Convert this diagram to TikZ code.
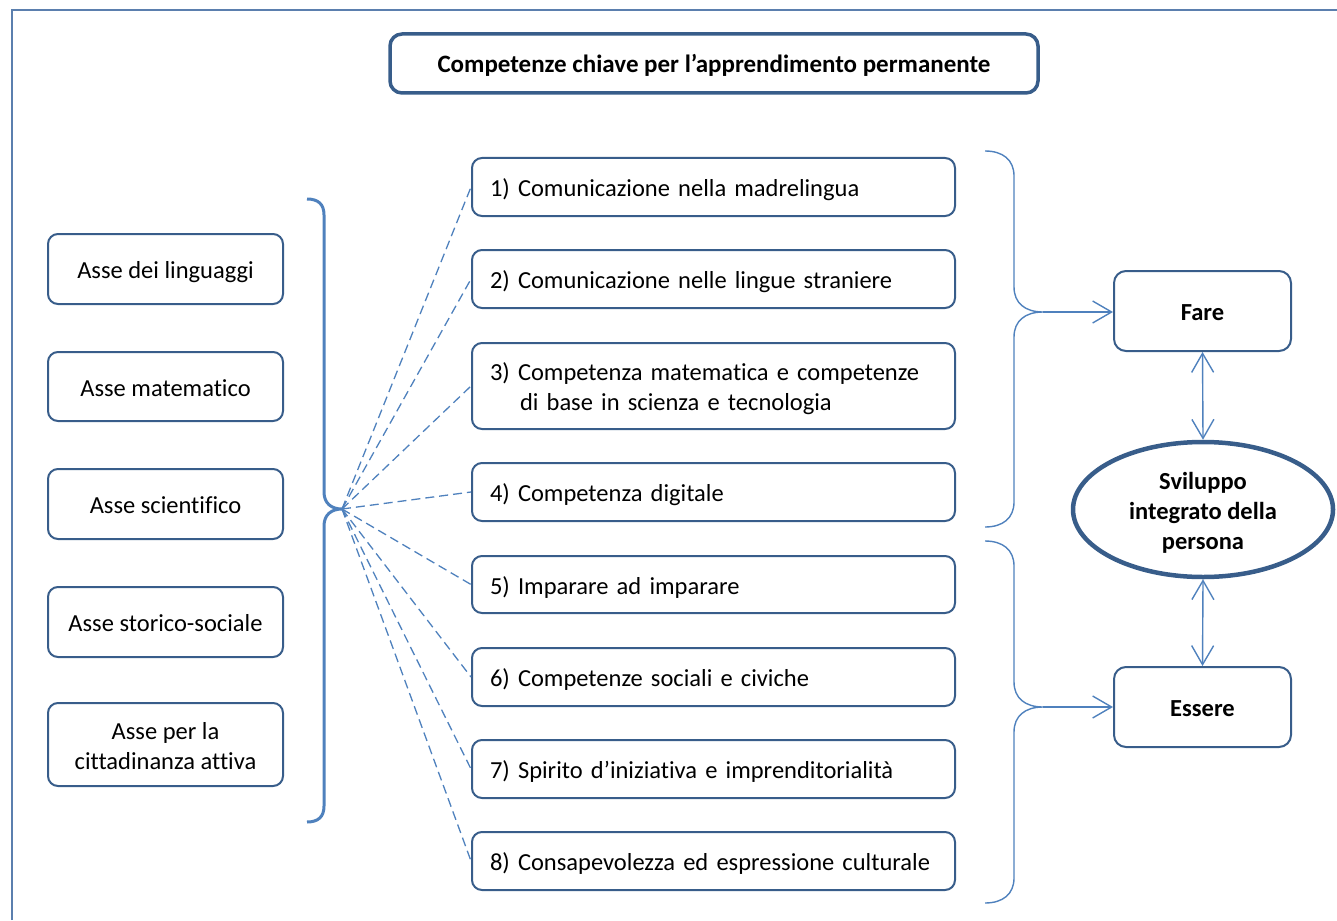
\documentclass[tikz,border=0pt]{standalone}
\usepackage{fontspec}
\setmainfont{Carlito}[RawFeature=-liga]
\usetikzlibrary{arrows.meta,shapes.geometric}
\definecolor{boxc}{HTML}{385D8A}
\definecolor{linec}{HTML}{4F81BD}
\definecolor{framec}{HTML}{5B7FAE}
\begin{document}
\begin{tikzpicture}[x=1pt,y=-1pt,
  every node/.style={font=\fontsize{24.5}{30}\selectfont},
  oneline/.style={text height=19.5pt,text depth=0pt},
  axbox/.style={draw=boxc,line width=2pt,rounded corners=10pt,minimum width=235pt,align=center,inner sep=0pt},
  compbox/.style={draw=boxc,line width=2pt,rounded corners=10pt,minimum width=483pt,text width=447pt,align=left,inner xsep=18pt,inner ysep=0pt},
  resbox/.style={draw=boxc,line width=2pt,rounded corners=12pt,minimum width=177pt,minimum height=80pt,oneline,font=\fontsize{24.5}{30}\selectfont\bfseries},
  dashline/.style={draw=linec,line width=1.3pt,dash pattern=on 9pt off 5pt},
  bigbrace/.style={draw=linec,line width=3pt},
  smallbrace/.style={draw=linec,line width=1.4pt},
  openarrow/.style={draw=linec,line width=1.4pt,-{Straight Barb[length=19pt,width=22pt,line width=1.4pt]}},
  dblarrow/.style={draw=linec,line width=1.4pt,{Straight Barb[length=19pt,width=22pt,line width=1.4pt]}-{Straight Barb[length=19pt,width=22pt,line width=1.4pt]}}
]
\useasboundingbox (0,0) rectangle (1337,920);
% frame
\draw[framec,line width=1.3pt] (12,920) -- (12,10) -- (1337,10);

% title
\node[draw=boxc,line width=3.5pt,rounded corners=12pt,minimum width=648pt,minimum height=59pt,text height=19.5pt,text depth=2pt,font=\fontsize{25}{30}\selectfont\bfseries] (title) at (714,63.5) {Competenze chiave per l’apprendimento permanente};

% axes
\node[axbox,oneline,minimum height=70pt] (a1) at (165.5,269) {Asse dei linguaggi};
\node[axbox,oneline,minimum height=69pt] (a2) at (165.5,386.5) {Asse matematico};
\node[axbox,oneline,minimum height=70pt] (a3) at (165.5,504) {Asse scientifico};
\node[axbox,oneline,minimum height=70pt] (a4) at (165.5,622) {Asse storico-sociale};
\node[axbox,text height=50pt,text depth=0pt,minimum height=83pt] (a5) at (165.5,744.5) {Asse per la\\cittadinanza attiva};

% competences
\node[compbox,oneline,minimum height=58pt] (m1) at (713.5,187) {1) Comunicazione nella madrelingua};
\node[compbox,oneline,minimum height=58pt] (m2) at (713.5,279) {2) Comunicazione nelle lingue straniere};
\node[compbox,text height=19.5pt,text depth=30.5pt,minimum height=86pt] (m3) at (713.5,386) {3) Competenza matematica e competenze\\\hspace*{30pt}di base in scienza e tecnologia};
\node[compbox,oneline,minimum height=58pt] (m4) at (713.5,492) {4) Competenza digitale};
\node[compbox,oneline,minimum height=57pt] (m5) at (713.5,584.5) {5) Imparare ad imparare};
\node[compbox,oneline,minimum height=58pt] (m6) at (713.5,677) {6) Competenze sociali e civiche};
\node[compbox,oneline,minimum height=58pt] (m7) at (713.5,769) {7) Spirito d’iniziativa e imprenditorialità};
\node[compbox,oneline,minimum height=58pt] (m8) at (713.5,861) {8) Consapevolezza ed espressione culturale};

% right boxes
\node[resbox] (fare) at (1202.5,311) {Fare};
\node[resbox] (essere) at (1202.5,707) {Essere};
\node[ellipse,draw=boxc,line width=4.5pt,minimum width=260pt,minimum height=135pt,inner sep=0pt,align=center,text height=79.5pt,text depth=0pt,font=\fontsize{24.5}{30}\selectfont\bfseries] (svil) at (1203,509.5) {Sviluppo\\integrato della\\persona};

% left brace
\coordinate (ltip) at (342,509);
\draw[bigbrace] (307,199) .. controls (318,199) and (324,204) .. (324,215) -- (324,492)
  .. controls (324,503) and (331,509) .. (ltip)
  .. controls (331,509) and (324,515) .. (324,526) -- (324,806)
  .. controls (324,817) and (318,822) .. (307,822);

% dashed connectors
\foreach \m in {m1,m2,m3,m4,m5,m6,m7,m8}
  \draw[dashline] (ltip) -- (\m.west);

% right braces
\coordinate (rt1) at (1043,312);
\draw[smallbrace] (985,151) .. controls (1003,151) and (1014,160) .. (1014,176) -- (1014,287)
  .. controls (1014,303) and (1025,312) .. (rt1)
  .. controls (1025,312) and (1014,321) .. (1014,337) -- (1014,502)
  .. controls (1014,518) and (1003,527) .. (985,527);
\coordinate (rt2) at (1043,707);
\draw[smallbrace] (985,541) .. controls (1003,541) and (1014,550) .. (1014,566) -- (1014,682)
  .. controls (1014,698) and (1025,707) .. (rt2)
  .. controls (1025,707) and (1014,716) .. (1014,732) -- (1014,878)
  .. controls (1014,894) and (1003,903) .. (985,903);

% arrows
\draw[openarrow] (rt1) -- (fare.west |- rt1);
\draw[openarrow] (rt2) -- (essere.west |- rt2);
\draw[dblarrow] (fare.south) -- (svil.north);
\draw[dblarrow] (svil.south) -- (essere.north);
\end{tikzpicture}
\end{document}
